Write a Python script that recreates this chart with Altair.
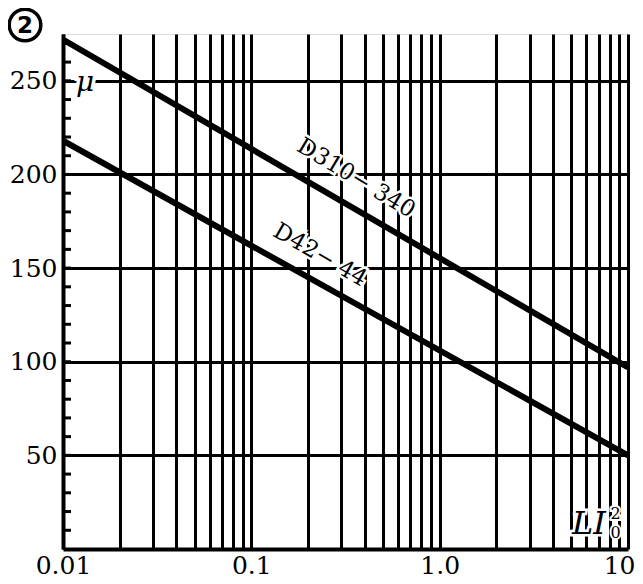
import altair as alt
import pandas as pd

# ---- data ----
x_grid = [0.01, 0.02, 0.03, 0.04, 0.05, 0.06, 0.07, 0.08, 0.09,
          0.1, 0.2, 0.3, 0.4, 0.5, 0.6, 0.7, 0.8, 0.9,
          1, 2, 3, 4, 5, 6, 7, 8, 9, 10]
x_labels = [0.01, 0.1, 1, 10]
y_major = [50, 100, 150, 200, 250]
y_minor = list(range(10, 280, 10))

series_names = ["D310−340", "D42−44"]
series_x = [[0.01, 10], [0.01, 10]]
series_y = [[272, 97], [218, 50]]

label_text = ["D310− 340", "D42− 44"]
label_x = [0.36, 0.232]
label_y = [198, 157]
label_angle = [31, 30]

FONT = "DejaVu Serif"

rows = []
for n, xs_, ys_ in zip(series_names, series_x, series_y):
    for a, b in zip(xs_, ys_):
        rows.append({"series": n, "x": a, "y": b})
lines_df = pd.DataFrame(rows)

xs = alt.Scale(type="log", domain=[0.01, 10], nice=False)
ys = alt.Scale(domain=[0, 275], nice=False, zero=False)

label_expr = ("datum.value == 0.01 ? '0.01' : datum.value == 0.1 ? '0.1' : "
              "datum.value == 1 ? '1.0' : datum.value == 10 ? '10' : ''")

grid_df = pd.DataFrame({"x": x_grid, "y": [100] * len(x_grid)})
base_axes = alt.Chart(grid_df).mark_point(opacity=0).encode(
    x=alt.X("x:Q", scale=xs, axis=alt.Axis(
        values=x_grid, title=None, grid=True, gridColor="black", gridWidth=3,
        gridOpacity=1, ticks=False, domain=True, domainColor="black", domainWidth=4,
        labelFont=FONT, labelFontSize=25, labelColor="black", labelPadding=4,
        labelExpr=label_expr, labelFlush=False, labelOverlap=False,
        labelAlign={"condition": {"test": "datum.value >= 9.99", "value": "right"},
                    "value": "center"},
        labelOffset={"condition": {"test": "datum.value >= 9.99", "value": 7},
                     "value": 0})),
    y=alt.Y("y:Q", scale=ys, axis=alt.Axis(
        values=y_major, title=None, grid=True, gridColor="black", gridWidth=3,
        gridOpacity=1, ticks=False, domain=True, domainColor="black", domainWidth=4,
        labelFont=FONT, labelFontSize=25, labelColor="black", labelPadding=6,
        labelFlush=False)),
)

minor_df = pd.DataFrame({"v": y_minor})
minor = alt.Chart(minor_df).mark_rule(color="black", strokeWidth=3).encode(
    y=alt.Y("v:Q", scale=ys), x=alt.value(0), x2=alt.value(8))

lines = alt.Chart(lines_df).mark_line(color="black", strokeWidth=6, clip=True).encode(
    x=alt.X("x:Q", scale=xs), y=alt.Y("y:Q", scale=ys), detail="series:N")

lab_layers = []
for t, lx, ly, ang in zip(label_text, label_x, label_y, label_angle):
    d = pd.DataFrame({"x": [lx], "y": [ly], "t": [t]})
    for halo in (True, False):
        kw = dict(stroke="white", strokeWidth=5) if halo else {}
        lab_layers.append(alt.Chart(d).mark_text(
            font=FONT, fontSize=23, angle=ang, color="black", align="center",
            baseline="middle", **kw).encode(
            x=alt.X("x:Q", scale=xs), y=alt.Y("y:Q", scale=ys), text="t:N"))

mu_df = pd.DataFrame({"x": [0.0131], "y": [249], "t": ["μ"]})
mu_halo = alt.Chart(mu_df).mark_text(font=FONT, fontSize=28, fontStyle="italic",
    stroke="white", strokeWidth=7, color="white", baseline="middle").encode(
    x=alt.X("x:Q", scale=xs), y=alt.Y("y:Q", scale=ys), text="t:N")
mu = alt.Chart(mu_df).mark_text(font=FONT, fontSize=28, fontStyle="italic",
    color="black", baseline="middle").encode(
    x=alt.X("x:Q", scale=xs), y=alt.Y("y:Q", scale=ys), text="t:N")

li_df = pd.DataFrame({"x": [6.2], "y": [13.1], "t": ["LI"]})
li_halo = alt.Chart(li_df).mark_text(font=FONT, fontSize=32, fontStyle="italic",
    stroke="white", strokeWidth=5, color="white", baseline="middle").encode(
    x=alt.X("x:Q", scale=xs), y=alt.Y("y:Q", scale=ys), text="t:N")
li = alt.Chart(li_df).mark_text(font=FONT, fontSize=32, fontStyle="italic",
    color="black", baseline="middle").encode(
    x=alt.X("x:Q", scale=xs), y=alt.Y("y:Q", scale=ys), text="t:N")
sup_df = pd.DataFrame({"x": [8.6, 8.6], "y": [18.5, 8.5], "t": ["2", "0"]})
sup_halo = alt.Chart(sup_df).mark_text(font=FONT, fontSize=16, color="white",
    stroke="white", strokeWidth=4, baseline="middle").encode(
    x=alt.X("x:Q", scale=xs), y=alt.Y("y:Q", scale=ys), text="t:N")
sup = alt.Chart(sup_df).mark_text(font=FONT, fontSize=16, color="black",
    baseline="middle").encode(
    x=alt.X("x:Q", scale=xs), y=alt.Y("y:Q", scale=ys), text="t:N")

circ = alt.Chart(pd.DataFrame({"a": [0]})).mark_point(
    shape="circle", filled=False, color="black", strokeWidth=3.5, size=1000, opacity=1).encode(
    x=alt.value(-38), y=alt.value(-9))
circ_t = alt.Chart(pd.DataFrame({"t": ["2"]})).mark_text(
    font="DejaVu Sans", fontSize=23, fontWeight="bold", color="black",
    baseline="middle").encode(
    x=alt.value(-38), y=alt.value(-8), text="t:N")

chart = alt.layer(
    base_axes, minor, lines, *lab_layers, mu_halo, mu, li_halo, li,
    sup_halo, sup, circ, circ_t
).properties(
    width=565, height=515,
    autosize=alt.AutoSizeParams(type="none"),
    padding={"left": 55, "top": 26, "right": 7, "bottom": 32},
).configure_view(stroke="black", strokeWidth=3).configure(background="white")

chart.save("out.html", embed_options={"renderer": "svg", "actions": False})
